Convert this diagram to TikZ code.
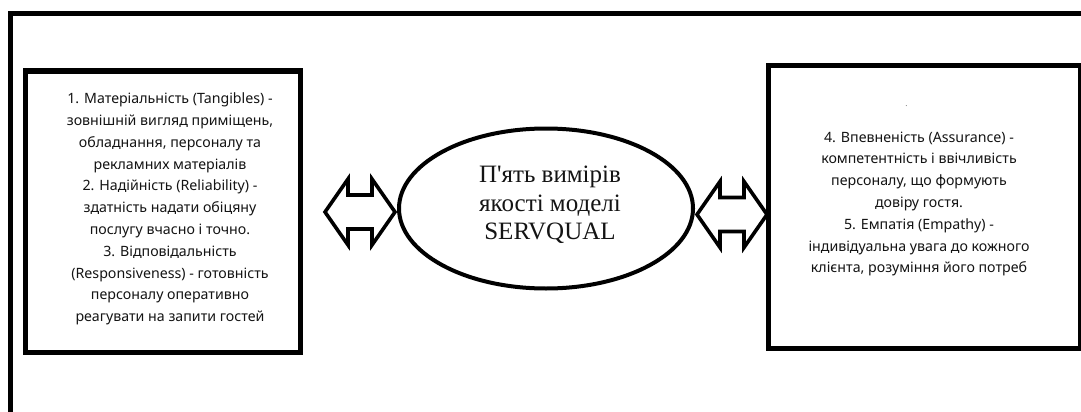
\documentclass[tikz,border=0pt]{standalone}
\usepackage{fontspec}
\setmainfont{Liberation Serif}
\newfontfamily\bodysans{Noto Sans}
\usetikzlibrary{shapes.geometric}
\tikzset{
  frameline/.style={line width=4.8pt, black},
  boxline/.style={draw, line width=5pt, inner sep=0pt, black},
  ovalline/.style={draw, ellipse, line width=4pt, inner sep=0pt, black},
  bodytext/.style={align=center, text=black!92,
    font=\bodysans\fontsize{14.2}{21.8}\selectfont},
  titletext/.style={align=center, text=black!92,
    font=\fontsize{25}{28.7}\selectfont},
  dblarrow/.pic={
    \draw[line width=3.6pt, line join=miter]
      (-35,0) -- (-12,-33) -- (-12,-17) -- (12,-17) -- (12,-33) -- (35,0)
      -- (12,33) -- (12,17) -- (-12,17) -- (-12,33) -- cycle;
  }
}
\begin{document}
\begin{tikzpicture}[x=1pt, y=-1pt]
  \useasboundingbox (0,0) rectangle (1081,412);
  \fill[white] (0,0) rectangle (1081,412);

  % outer frame, open to the right and bottom
  \draw[frameline] (1081,13.5) -- (10.5,13.5) -- (10.5,412);

  % left box with dimensions 1-3
  \node[boxline, minimum width=275pt, minimum height=281pt] (lbox) at (163,211.5) {};
  \node[bodytext] (ltext) at (170,209) {1. Матеріальність (Tangibles) -\\
    зовнішній вигляд приміщень,\\
    обладнання, персоналу та\\
    рекламних матеріалів\\
    2. Надійність (Reliability) -\\
    здатність надати обіцяну\\
    послугу вчасно і точно.\\
    3. Відповідальність\\
    (Responsiveness) - готовність\\
    персоналу оперативно\\
    реагувати на запити гостей};

  % right box with dimensions 4-5
  \node[boxline, minimum width=312pt, minimum height=283pt] (rbox) at (924.5,207) {};
  \node[font=\bodysans\fontsize{8}{8}\selectfont, text=black!60] (rdot) at (906.5,106) {.};
  \node[bodytext] (rtext) at (919,204) {4. Впевненість (Assurance) -\\
    компетентність і ввічливість\\
    персоналу, що формують\\
    довіру гостя.\\
    5. Емпатія (Empathy) -\\
    індивідуальна увага до кожного\\
    клієнта, розуміння його потреб};

  % central ellipse
  \node[ovalline, minimum width=294pt, minimum height=160pt] (core) at (546,208.5) {};
  \node[titletext] (coretext) at (550,205) {П\textquotesingle ять вимірів\\якості моделі\\SERVQUAL};

  % two-way arrows between the boxes and the ellipse
  \pic at (360,212) {dblarrow};
  \pic at (732,214.5) {dblarrow};
\end{tikzpicture}
\end{document}
